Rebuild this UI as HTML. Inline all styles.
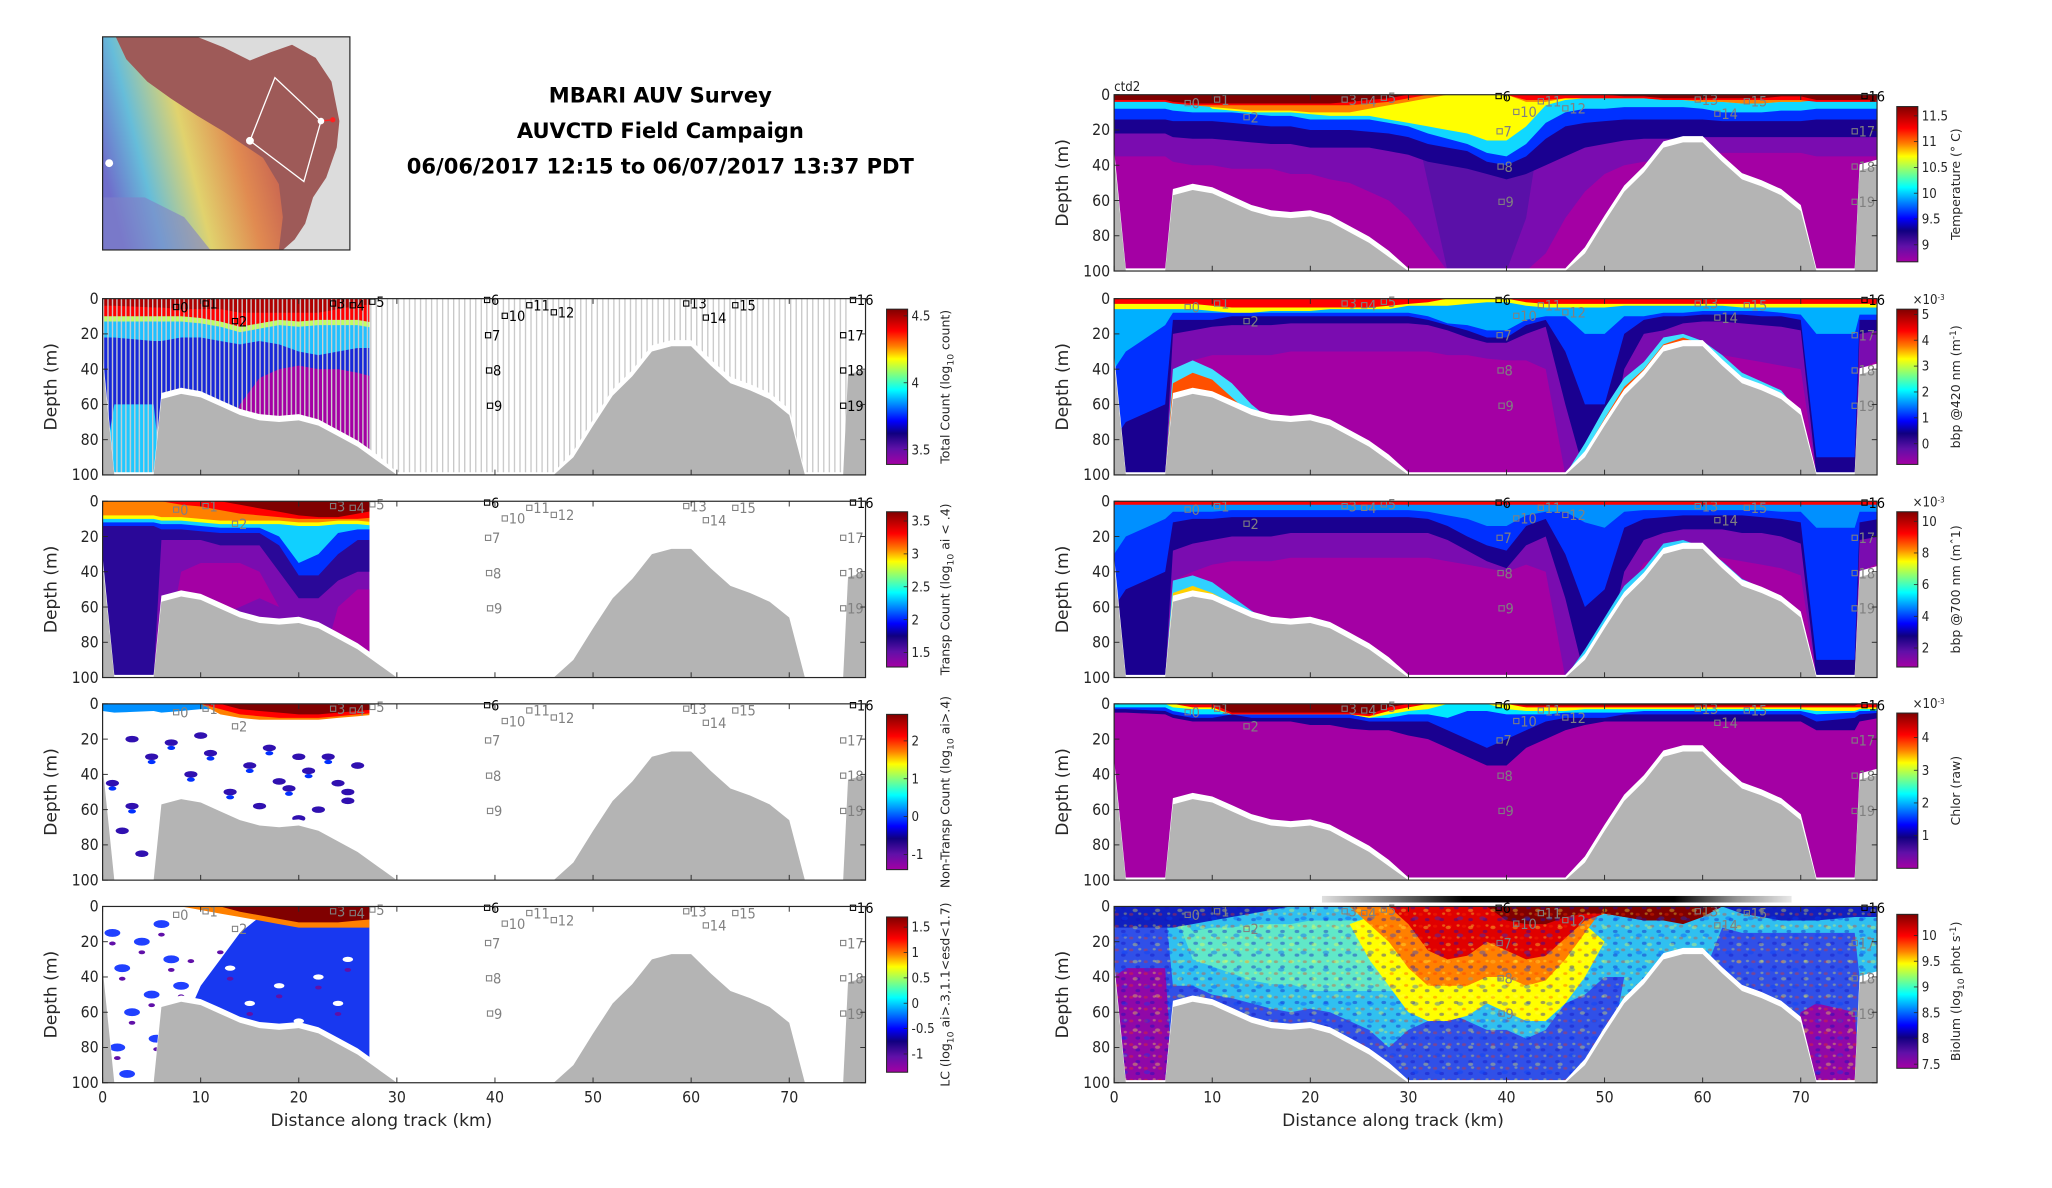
<!DOCTYPE html>
<html><head><meta charset="utf-8"><title>MBARI AUV Survey</title>
<style>
html,body{margin:0;padding:0;background:#fff;overflow:hidden}
svg{display:block}
.tk{font-family:"Liberation Sans Narrow","DejaVu Sans Condensed","Liberation Sans",sans-serif;font-size:12px;fill:#262626}
.lab{font-family:"DejaVu Sans","Liberation Sans",sans-serif;font-size:13px;fill:#262626}
.cbl{font-family:"DejaVu Sans","Liberation Sans",sans-serif;font-size:9.5px;fill:#262626}
.cbt{font-family:"Liberation Sans Narrow","DejaVu Sans Condensed","Liberation Sans",sans-serif;font-size:10px;fill:#262626}
.ttl{font-family:"DejaVu Sans","Liberation Sans",sans-serif;font-size:16px;font-weight:bold;fill:#000}
.st{font-family:"Liberation Sans Narrow","DejaVu Sans Condensed","Liberation Sans",sans-serif;font-size:11px}
</style></head>
<body>
<svg id="fig" width="2052" height="1188" viewBox="0 0 1560 903" preserveAspectRatio="none" xmlns="http://www.w3.org/2000/svg">
<defs>
<linearGradient id="jet" x1="0" y1="1" x2="0" y2="0">
<stop offset="0" stop-color="#a400a4"/><stop offset="0.1" stop-color="#6010a8"/><stop offset="0.2" stop-color="#100080"/>
<stop offset="0.28" stop-color="#0000ff"/><stop offset="0.38" stop-color="#0080ff"/><stop offset="0.48" stop-color="#00ffff"/>
<stop offset="0.58" stop-color="#80ff80"/><stop offset="0.68" stop-color="#ffff00"/><stop offset="0.76" stop-color="#ff8000"/>
<stop offset="0.86" stop-color="#ff0000"/><stop offset="1" stop-color="#800000"/>
</linearGradient>
<linearGradient id="rainbow" x1="0" y1="0.6" x2="1" y2="0.3">
<stop offset="0" stop-color="#6a70d8"/><stop offset="0.2" stop-color="#60c8e8"/><stop offset="0.45" stop-color="#e8e070"/>
<stop offset="0.7" stop-color="#e89050"/><stop offset="1" stop-color="#c05050"/>
</linearGradient>
<linearGradient id="navbar" x1="0" y1="0" x2="1" y2="0">
<stop offset="0" stop-color="#e0e0e0"/><stop offset="0.2" stop-color="#505050"/><stop offset="0.3" stop-color="#000"/>
<stop offset="0.75" stop-color="#000"/><stop offset="0.88" stop-color="#909090"/><stop offset="1" stop-color="#e8e8e8"/>
</linearGradient>
<pattern id="grayStripes" width="4.2" height="10" patternUnits="userSpaceOnUse"><rect x="0" y="0" width="1" height="10" fill="#c8c8c8"/></pattern>
<pattern id="dataStripes" width="3.4" height="10" patternUnits="userSpaceOnUse"><rect x="0" y="0" width="1" height="10" fill="#d0d0d0"/></pattern>
<pattern id="speckle" width="11" height="9" patternUnits="userSpaceOnUse">
<ellipse cx="2" cy="2" rx="1.6" ry="1.1" fill="#ff3000" opacity="0.35"/><ellipse cx="7" cy="6" rx="1.8" ry="1.2" fill="#1010c0" opacity="0.4"/><ellipse cx="8.5" cy="1.5" rx="1.2" ry="0.9" fill="#ffff40" opacity="0.35"/>
</pattern>
<pattern id="speckle2" width="17" height="13" patternUnits="userSpaceOnUse">
<ellipse cx="5" cy="9" rx="2.4" ry="1.5" fill="#0040ff" opacity="0.35"/><ellipse cx="13" cy="3" rx="2" ry="1.3" fill="#ffff40" opacity="0.35"/>
</pattern>
</defs>
<g id="root"></g>
</svg>
<script>
// ---------- data ----------
const KM = [0,1.2,5.2,6,8,10,12,14,16,18,20,22,24,26,28,30,32,34,36,38,40,42,44,46,48,50,52,54,56,58,60,62,64,66,68,70,71.6,75.5,76,78];
const BATHY = [35,102,102,57,54,56,61,66,69,70,69,72,78,84,92,102,102,102,102,102,102,102,102,102,90,72,55,44,30,27,27,38,48,52,57,66,102,102,43,40];
const X_TICKS = [0,10,20,30,40,50,60,70];
const Y_TICKS = [0,20,40,60,80,100];
const ST_KM = [7.5,10.5,13.5,23.5,25.5,27.5,39.2,39.3,39.4,39.5,41,43.5,46,59.5,61.5,64.5,76.5,75.5,75.5,75.5];
const ST_D = [4,2,12,2,3,1,0,20,40,60,9,3,7,2,10,3,0,20,40,60];
const ST_LABEL = ["0","1","2","3","4","5","6","7","8","9","10","11","12","13","14","15","16","17","18","19"];

// Temperature
const T_VIOLET = [35,35,35,38,40,40,42,42,42,45,45,48,50,55,60,70,85,100,100,100,100,100,90,70,55,45,40,38,38,36,34,33,33,33,33,33,35,35,35,35];
const T_DVIOLET = [0,0,0,0,0,0,0,0,0,0,0,0,0,0,0,0,50,100,100,100,100,70,0,0,0,0,0,0,0,0,0,0,0,0,0,0,0,0,0,0];
const T_NAVY = [22,22,22,24,25,25,26,27,28,28,30,30,30,30,32,34,38,40,42,45,48,45,40,35,30,28,26,25,25,25,24,24,24,24,24,24,24,24,24,24];
const T_BLUE = [14,14,14,15,15,15,16,17,18,18,20,20,20,21,22,24,28,30,32,38,40,35,25,18,16,15,14,14,14,14,14,15,15,15,15,15,14,14,14,14];
const T_CYAN = [8,8,8,9,10,10,10,11,12,12,14,14,14,14,16,18,22,25,28,33,35,28,16,10,8,8,7,7,7,7,8,10,10,10,9,9,8,8,8,8];
const T_YELLOW = [0,0,0,0,0,8,9,10,10,10,11,12,12,12,14,16,18,20,22,26,26,18,6,3,2,2,2,2,3,3,4,4,5,5,4,4,0,0,0,0];
const T_ORANGE = [0,0,0,2,6,7,8,9,9,9,10,10,10,8,6,4,2,0,0,0,0,4,4,2,2,2,2,2,3,3,4,4,5,5,4,4,3,3,3,3];
const T_RED = [4,4,4,5,6,6,6,6,6,6,6,6,6,5,4,2,0,0,0,0,0,3,3,2,2,2,2,2,3,3,3,3,3,3,3,3,4,4,4,4];
const T_DARKRED = [3,3,3,4,5,5,5,5,5,5,5,5,4,3,2,0,0,0,0,0,0,0,0,0,0,0,1,1,2,2,2,2,2,2,1,1,3,3,3,3];
const T_RANGE = [8.67,11.68];
const T_TICKS = [9,9.5,10,10.5,11,11.5];

// bbp 420
const B4_VIOLET = [100,100,100,40,35,32,32,32,32,30,30,30,30,30,30,30,30,32,32,34,35,35,40,100,100,100,60,35,30,30,30,32,34,36,38,40,100,100,40,35];
const B4_NAVY = [100,100,100,20,18,16,15,15,15,14,14,14,14,14,14,14,15,18,22,25,25,20,16,60,100,100,40,20,18,14,13,13,14,15,16,18,100,100,20,18];
const B4_BLUE = [80,70,60,12,12,12,10,10,10,10,10,10,10,10,10,10,12,15,18,22,22,15,12,30,60,60,20,12,10,10,9,9,9,10,10,12,90,90,12,12];
const B4_CYAN = [40,30,15,8,8,8,8,8,8,8,8,8,8,8,8,8,10,14,15,18,18,12,10,10,20,20,10,10,8,8,7,7,7,7,8,9,20,20,9,9];
const B4_YELLOW = [6,6,6,6,6,7,8,8,7,7,7,6,6,6,6,4,4,4,3,2,2,4,5,5,5,5,4,4,4,4,4,4,5,5,5,5,5,5,5,5];
const B4_RED = [3,3,3,3,3,4,5,5,5,5,5,5,5,5,4,3,2,0,0,0,0,2,3,3,3,3,3,3,3,3,3,3,3,3,3,3,3,3,3,3];
const B4_EDGE_TOP = [102,102,102,40,35,40,48,60,69,70,69,72,78,84,92,102,102,102,102,102,102,102,102,102,82,62,45,36,22,20,24,32,42,47,52,66,102,102,43,40];
const B4_HOT_TOP = [102,102,102,48,42,46,56,66,69,70,69,72,78,84,92,102,102,102,102,102,102,102,102,102,87,68,50,40,26,22,26,35,45,50,55,66,102,102,43,40];
const B4_RANGE = [-0.8,5.2];
const B4_TICKS = [0,1,2,3,4,5];

// bbp 700
const B7_VIOLET = [100,100,100,45,40,36,34,34,34,32,32,32,32,32,32,32,32,34,36,38,40,36,40,100,100,100,55,35,30,30,30,32,34,36,38,42,100,100,40,35];
const B7_NAVY = [100,100,100,28,24,22,20,20,20,18,18,18,18,18,18,18,18,22,28,34,38,25,20,55,100,90,40,22,18,16,16,16,18,18,20,24,100,100,22,20];
const B7_BLUE = [60,50,40,12,10,10,9,9,9,9,9,9,9,9,9,9,10,14,20,25,28,14,10,30,60,50,15,10,9,8,8,8,8,9,10,12,90,90,12,10];
const B7_CYAN = [30,20,10,6,6,6,5,5,5,5,5,5,5,5,5,5,6,8,10,14,14,8,6,6,12,15,6,5,5,5,5,5,5,5,6,6,15,15,6,6];
const B7_RED = [2,2,2,2,2,2,2,2,2,2,2,2,2,2,2,2,2,2,2,2,2,2,2,2,2,2,2,2,2,2,2,2,2,2,2,2,2,2,2,2];
const B7_EDGE_TOP = [102,102,102,45,42,46,54,62,69,70,69,72,78,84,92,102,102,102,102,102,102,102,102,102,84,66,48,38,24,22,26,34,44,49,54,66,102,102,43,40];
const B7_HOT_TOP = [102,102,102,52,48,52,58,66,69,70,69,72,78,84,92,102,102,102,102,102,102,102,102,102,88,70,52,42,28,27,27,38,48,52,57,66,102,102,43,40];
const B7_RANGE = [0.8,10.6];
const B7_TICKS = [2,4,6,8,10];

// Chlorophyll
const C_NAVY = [5,5,6,8,10,10,10,10,10,10,12,12,14,15,15,18,20,25,30,35,35,25,20,15,12,10,10,10,10,10,10,10,10,10,10,10,15,15,10,8];
const C_BLUE = [3,3,4,6,8,8,6,8,8,8,8,8,8,10,10,10,10,15,20,25,20,15,10,8,8,8,6,6,6,6,6,6,6,6,6,6,10,8,6,5];
const C_CYAN = [2,2,2,4,6,6,6,6,6,6,6,6,6,8,8,6,6,8,4,4,6,6,6,5,5,5,5,4,4,4,4,4,4,4,4,4,6,5,4,4];
const C_YELLOW = [0,0,0,2,3,3,6,6,6,6,6,6,6,8,6,4,3,0,0,0,3,4,4,4,3,3,3,3,3,3,3,3,3,3,3,3,4,4,3,3];
const C_RED = [0,0,0,0,2,2,6,6,6,6,6,6,6,7,4,2,0,0,0,0,0,2,2,2,2,2,2,2,2,2,2,2,2,2,2,2,2,2,2,2];
const C_DARKRED = [0,0,0,0,0,0,5,5,5,5,5,5,5,6,2,0,0,0,0,0,0,1,1,1,1,1,1,1,1,1,1,1,1,1,1,1,1,1,0,0];
const C_RANGE = [0,4.75];
const C_TICKS = [1,2,3,4];

// Bioluminescence
const Z_BLUE_TOP = [0,0,0,45,45,50,52,55,58,60,58,60,65,70,80,70,65,60,65,70,70,75,70,55,50,40,40,40,40,40,40,12,15,15,15,15,15,15,40,40];
const Z_BLUE_BOT = [100,100,100,100,100,100,100,100,100,100,100,100,100,100,100,100,100,100,100,100,100,100,100,100,100,100,40,40,40,40,40,100,100,100,100,100,100,100,40,40];
const Z_MAG_TOP = [40,35,35,100,100,100,100,100,100,100,100,100,100,100,100,100,100,100,100,100,100,100,100,100,100,100,100,100,100,100,100,100,100,100,100,60,55,60,100,100];
const Z_NAVY = [12,12,12,12,10,8,6,4,2,0,0,0,0,0,0,0,0,0,0,0,0,0,0,0,0,0,0,0,0,0,0,0,4,6,8,8,8,6,6,6];
const Z_GREEN_TOP = [0,0,0,0,14,12,12,10,10,10,8,8,8,8,10,12,0,0,0,0,0,0,0,0,0,0,0,0,0,0,0,0,0,0,0,0,0,0,0,0];
const Z_GREEN_BOT = [0,0,0,0,30,34,38,42,44,44,48,48,48,48,48,48,0,0,0,0,0,0,0,0,0,0,0,0,0,0,0,0,0,0,0,0,0,0,0,0];
const Z_YEL_TOP = [0,0,0,0,0,0,0,0,0,0,0,0,10,6,4,2,2,2,2,2,2,2,2,6,10,20,0,0,0,0,0,0,0,0,0,0,0,0,0,0];
const Z_YEL_BOT = [0,0,0,0,0,0,0,0,0,0,0,0,10,30,45,60,65,65,62,55,60,65,65,55,40,20,0,0,0,0,0,0,0,0,0,0,0,0,0,0];
const Z_ORA_BOT = [0,0,0,0,0,0,0,0,0,0,0,0,0,10,20,35,45,45,45,40,40,45,42,30,15,0,0,0,0,0,0,0,0,0,0,0,0,0,0,0];
const Z_RED_BOT = [0,0,0,0,0,0,0,0,0,0,0,0,0,0,0,10,25,30,28,20,25,30,28,18,8,4,6,6,6,4,4,0,0,0,0,0,0,0,0,0];
const Z_DRED_BOT = [0,0,0,0,0,0,0,0,0,0,0,0,0,0,0,0,0,0,0,0,8,10,10,6,4,4,6,8,8,10,6,0,0,0,0,0,0,0,0,0];
const Z_RANGE = [7.42,10.41];
const Z_TICKS = [7.5,8,8.5,9,9.5,10];

// Left: Total count
const L1_MAG_TOP = [100,100,100,100,100,100,100,60,45,40,38,40,40,42,45];
const L1_CYDEEP_TOP = [100,60,60,100,100,100,100,100,100,100,100,100,100,100,100];
const L1_CYAN = [22,22,24,24,22,22,24,26,24,26,30,32,30,28,28];
const L1_GREEN = [13,13,13,13,13,14,16,19,17,15,16,15,15,15,17];
const L1_RED = [10,10,10,10,10,11,13,16,14,12,13,12,12,12,14];
const L1_DARKRED = [4,4,5,5,6,6,6,8,8,8,8,8,6,4,3];
const L1_RANGE = [3.39,4.55];
const L1_TICKS = [3.5,4,4.5];

// Left: Transparent count
const L2_MAG_TOP = [100,100,100,100,40,35,35,35,40,60,100,100,60,50,50];
const L2_MAG_BOT = [100,100,100,100,55,60,65,60,55,60,100,100,85,85,85];
const L2_NAVY = [100,100,100,22,22,22,25,25,25,40,55,55,45,40,40];
const L2_BLUE = [14,14,14,16,16,17,18,18,18,25,42,42,30,22,22];
const L2_CYAN = [12,12,12,13,13,14,15,15,15,20,35,30,18,16,16];
const L2_YELLOW = [10,10,10,11,11,12,13,13,13,13,14,14,13,13,14];
const L2_ORANGE = [8,8,8,9,9,10,11,11,11,11,12,12,11,11,12];
const L2_RED = [0,0,0,0,2,3,5,7,8,9,10,10,10,10,9];
const L2_DARKRED = [0,0,0,0,0,0,0,2,4,6,8,9,9,7,5];
const L2_RANGE = [1.28,3.64];
const L2_TICKS = [1.5,2,2.5,3,3.5];

// Left: Non-transparent count
const L3_TOP_CYAN = [4,5,4,5,4,3,3,2,0,0,0,0,0,0,0];
const L3_TOP_ORANGE = [0,0,0,0,0,0,6,8,9,9,9,9,8,7,6];
const L3_TOP_RED = [0,0,0,0,0,0,3,6,7,8,8,8,7,6,5];
const L3_TOP_DARKRED = [0,0,0,0,0,0,0,3,4,5,6,6,5,4,3];
const L3_BLOB_KM = [1,3,5,7,9,11,13,15,17,19,21,23,25,2,4,8,12,16,20,24,10,14,18,22,26,6,3,9,20,25];
const L3_BLOB_D = [45,58,30,22,40,28,50,35,25,48,38,30,55,72,85,62,70,58,65,45,18,80,44,60,35,95,20,92,30,50];
const L3_RANGE = [-1.4,2.7];
const L3_TICKS = [-1,0,1,2];

// Left: LC
const L4_WHITE_BOT = [100,100,100,100,70,45,30,15,6,0,0,0,0,0,0];
const L4_ORANGE = [0,0,0,0,0,2,4,6,8,10,12,12,12,12,12];
const L4_DARKRED = [0,0,0,0,0,0,0,3,5,7,9,9,9,8,7];
const L4_BLOB_KM = [1,2,4,5,6,7,3,8,1.5,5.5,6.5,2.5,9,11,13,15,18,22,25,12,16,20,24];
const L4_BLOB_D = [15,35,20,50,10,30,60,45,80,75,90,95,25,60,35,55,45,40,30,20,70,65,55];
const L4_RANGE = [-1.36,1.7];
const L4_TICKS = [-1,-0.5,0,0.5,1,1.5];

// ---------- drawing ----------
const NS = "http://www.w3.org/2000/svg";
const root = document.getElementById('root');
const PXKM = (600-78)/70;
const COL = {mag:"#a400a4",purple:"#7a0cb0",violet:"#5a10a8",navy:"#1a0090",blue:"#0030ff",azure:"#0090ff",cyan:"#00e8ff",green:"#80ff80",yellow:"#ffff00",orange:"#ff8000",red:"#ff0000",darkred:"#800000",gray:"#b4b4b4"};

function mk(tag, attrs, parent){
  const e = document.createElementNS(NS, tag);
  for (const k in attrs) e.setAttribute(k, attrs[k]);
  (parent||root).appendChild(e);
  return e;
}
function P(x0,y0,kmMax){ return {x0:x0,y0:y0,w:580,h:134,kmMax:kmMax}; }
function xOf(p,km){ return p.x0 + km*PXKM; }
function yOf(p,d){ return p.y0 + Math.max(0,Math.min(d,100))*p.h/100; }

let clipN = 0;
function panelGroup(p, name){
  const id = 'clip'+(clipN++);
  const cp = mk('clipPath',{id:id});
  mk('rect',{x:p.x0,y:p.y0,width:Math.min(p.w,p.kmMax*PXKM),height:p.h},cp);
  const g = mk('g',{'clip-path':'url(#'+id+')'});
  
  
  return g;
}
function band(p, g, color, topArr, botArr, name){
  const n = Math.min(botArr.length, KM.length);
  const pts = [];
  for (let i=0;i<n;i++){ const t = (typeof topArr==='number')?topArr:topArr[i]; pts.push(xOf(p,KM[i]).toFixed(1)+','+yOf(p,t).toFixed(1)); }
  for (let i=n-1;i>=0;i--){ pts.push(xOf(p,KM[i]).toFixed(1)+','+yOf(p,botArr[i]).toFixed(1)); }
  const e = mk('polygon',{points:pts.join(' '),fill:color},g);
  
  
  return e;
}
function fillRect(p,g,color,name){
  const e = mk('rect',{x:p.x0,y:p.y0,width:p.w,height:p.h,fill:color},g);
  
  
}
function blobs(p,g,kms,ds,color,rx,ry,name){
  for (let i=0;i<kms.length;i++){
    const e = mk('ellipse',{cx:xOf(p,kms[i]),cy:yOf(p,ds[i]),rx:rx,ry:ry,fill:color},g);
    
    
  }
}
function bathy(p){
  const wt = BATHY.map(v=>v-3.5);
  const g = mk('g',{});
  
  
  const cid='clip'+(clipN++);
  const cp = mk('clipPath',{id:cid}); mk('rect',{x:p.x0,y:p.y0,width:p.w,height:p.h},cp);
  g.setAttribute('clip-path','url(#'+cid+')');
  band(p,g,'#ffffff',wt,KM.map(()=>101),'seafloor-outline');
  band(p,g,COL.gray,BATHY,KM.map(()=>101),'seafloor-fill');
}
function axes(p, showXLabels, name){
  const g = mk('g',{});
  
  
  const r = mk('rect',{x:p.x0,y:p.y0,width:p.w,height:p.h,fill:'none',stroke:'#262626','stroke-width':0.9},g);
  
  
  Y_TICKS.forEach(v=>{
    const y = yOf(p,v);
    mk('line',{x1:p.x0,x2:p.x0+4,y1:y,y2:y,stroke:'#262626','stroke-width':0.7},g);
    mk('line',{x1:p.x0+p.w,x2:p.x0+p.w-4,y1:y,y2:y,stroke:'#262626','stroke-width':0.7},g);
    const t = mk('text',{x:p.x0-3,y:y+4,'text-anchor':'end',class:'tk'},g);
    t.textContent = v;
    
    
  });
  X_TICKS.forEach(v=>{
    const x = xOf(p,v);
    mk('line',{x1:x,x2:x,y1:p.y0+p.h,y2:p.y0+p.h-4,stroke:'#262626','stroke-width':0.7},g);
    mk('line',{x1:x,x2:x,y1:p.y0,y2:p.y0+4,stroke:'#262626','stroke-width':0.7},g);
    if (showXLabels){
      const t = mk('text',{x:x,y:p.y0+p.h+15,'text-anchor':'middle',class:'tk'},g);
      t.textContent = v;
      
      
    }
  });
  const yl = mk('text',{x:0,y:0,'text-anchor':'middle',class:'lab',transform:'translate('+(p.x0-35)+','+(p.y0+p.h/2)+') rotate(-90)'},g);
  yl.textContent = 'Depth (m)';
  
  
  if (showXLabels){
    const xl = mk('text',{x:p.x0+p.w/2-78,y:p.y0+p.h+33,'text-anchor':'middle',class:'lab'},g);
    xl.textContent = 'Distance along track (km)';
    
    
  }
}
function stations(p, allBlack){
  const g = mk('g',{});
  
  
  for (let i=0;i<ST_KM.length;i++){
    const black = allBlack || ST_LABEL[i]==='6' || ST_LABEL[i]==='16';
    const c = black ? '#000' : '#808080';
    const x = xOf(p,ST_KM[i]), y = yOf(p,ST_D[i]);
    const s = mk('rect',{x:x-2,y:y-2+1,width:4,height:4,fill:'none',stroke:c,'stroke-width':0.8},g);
    
    
    const t = mk('text',{x:x+3,y:y+5,class:'st',fill:c},g);
    t.textContent = ST_LABEL[i];
    
    
  }
}
function colorbar(x,y0,y1,range,ticks,labelParts,name,exp){
  const g = mk('g',{});
  
  
  const r = mk('rect',{x:x,y:y0,width:16,height:y1-y0,fill:'url(#jet)',stroke:'#262626','stroke-width':0.8},g);
  
  
  ticks.forEach(v=>{
    const y = y1 - (v-range[0])/(range[1]-range[0])*(y1-y0);
    mk('line',{x1:x+16,x2:x+13,y1:y,y2:y,stroke:'#262626','stroke-width':0.6},g);
    const t = mk('text',{x:x+19,y:y+3.5,class:'cbt'},g);
    t.textContent = v;
    
    
  });
  if (exp){
    const t = mk('text',{x:x+12,y:y0-4,class:'cbt','font-size':'8'},g);
    t.innerHTML = '\u00d710<tspan dy="-3" font-size="6">-3</tspan>';
    
    
  }
  const lt = mk('text',{x:0,y:0,'text-anchor':'middle',class:'cbl',transform:'translate('+(x+48)+','+((y0+y1)/2)+') rotate(-90)'},g);
  lt.innerHTML = labelParts;
  
  
}
const sub = s => '<tspan dy="3" font-size="7">'+s+'</tspan><tspan dy="-3">';
const full = KM.map(()=>100);
const fullL = full.slice(0,15);

// ---------- Map & title ----------
(function(){
  const g = mk('g',{});
  
  
  mk('rect',{x:78,y:28,width:188,height:162,fill:'#dcdcdc'},g);
  mk('polygon',{points:'78,28 150,28 170,36 190,46 205,40 222,34 240,44 252,62 258,92 256,112 248,135 238,150 232,170 224,182 215,190 78,190',fill:'#9e5a58'},g);
  mk('polygon',{points:'78,28 88,28 96,45 112,62 130,75 150,88 170,100 185,110 200,120 212,140 215,165 212,190 78,190',fill:'url(#rainbow)',opacity:'0.9'},g);
  mk('polygon',{points:'78,150 110,150 140,165 160,190 78,190',fill:'#8080c8',opacity:'0.6'},g);
  mk('polygon',{points:'209,59 244,92 231,138 190,107',fill:'none',stroke:'#fff','stroke-width':1},g);
  mk('line',{x1:244,y1:92,x2:253,y2:91,stroke:'#ff2020','stroke-width':1},g);
  mk('circle',{cx:253,cy:91,r:2,fill:'#ff2020'},g);
  mk('circle',{cx:244,cy:92,r:2.5,fill:'#fff'},g);
  mk('circle',{cx:190,cy:107,r:3,fill:'#fff'},g);
  mk('circle',{cx:83,cy:124,r:3,fill:'#fff'},g);
  mk('rect',{x:78,y:28,width:188,height:162,fill:'none',stroke:'#262626','stroke-width':0.9},g);
  const titles = ['MBARI AUV Survey','AUVCTD Field Campaign','06/06/2017 12:15 to 06/07/2017 13:37 PDT'];
  titles.forEach((s,i)=>{
    const t = mk('text',{x:502,y:78+i*27,'text-anchor':'middle',class:'ttl'});
    t.textContent = s;
    
    
  });
})();

// ---------- Left panels ----------
const LY = [227,381,535,689];
(function(){
  // L1 total count
  let p = P(78,LY[0],78);
  let g = panelGroup(p,'total-count-section');
  const stripes = mk('rect',{x:xOf(p,27),y:p.y0,width:xOf(p,76)-xOf(p,27),height:p.h,fill:'url(#grayStripes)'},g);
  
  
  const edge = mk('rect',{x:p.x0,y:p.y0,width:4,height:p.h*0.4,fill:'#d0d0d0'},g);
  
  
  p.kmMax = 27.2;
  g = panelGroup(p,'total-count-field');
  fillRect(p,g,'#1828d8','tc-base');
  band(p,g,COL.mag,L1_MAG_TOP,fullL,'tc-magenta');
  band(p,g,'#20c8ff',L1_CYDEEP_TOP,fullL,'tc-cyan-deep');
  band(p,g,'#20c0ff',0,L1_CYAN,'tc-cyan');
  band(p,g,'#c0ff60',0,L1_GREEN,'tc-green');
  band(p,g,COL.red,0,L1_RED,'tc-red');
  band(p,g,'#b00000',0,L1_DARKRED,'tc-darkred');
  const ws = mk('rect',{x:p.x0,y:p.y0,width:27.2*PXKM,height:p.h,fill:'url(#dataStripes)'},g);
  
  
  p.kmMax = 78; bathy(p); stations(p,true); axes(p,false,'total-count-axes');
  colorbar(674,235,353,L1_RANGE,L1_TICKS,'Total Count (log'+sub('10')+' count)</tspan>','total-count-colorbar');

  // L2 transparent
  p = P(78,LY[1],27.2);
  g = panelGroup(p,'transp-count-field');
  fillRect(p,g,COL.purple,'tr-base');
  band(p,g,COL.mag,L2_MAG_TOP,L2_MAG_BOT,'tr-magenta');
  band(p,g,'#2a0898',0,L2_NAVY,'tr-navy');
  band(p,g,COL.blue,0,L2_BLUE,'tr-blue');
  band(p,g,'#10d0ff',0,L2_CYAN,'tr-cyan');
  band(p,g,COL.yellow,0,L2_YELLOW,'tr-yellow');
  band(p,g,COL.orange,0,L2_ORANGE,'tr-orange');
  band(p,g,COL.red,0,L2_RED,'tr-red');
  band(p,g,COL.darkred,0,L2_DARKRED,'tr-darkred');
  p.kmMax = 78; bathy(p); stations(p,false); axes(p,false,'transp-count-axes');
  colorbar(674,389,507,L2_RANGE,L2_TICKS,'Transp Count (log'+sub('10')+' ai &lt; .4)</tspan>','transp-count-colorbar');

  // L3 non-transparent
  p = P(78,LY[2],27.2);
  g = panelGroup(p,'nontransp-count-field');
  band(p,g,COL.azure,0,L3_TOP_CYAN,'nt-cyan');
  band(p,g,COL.orange,0,L3_TOP_ORANGE,'nt-orange');
  band(p,g,COL.red,0,L3_TOP_RED,'nt-red');
  band(p,g,COL.darkred,0,L3_TOP_DARKRED,'nt-darkred');
  blobs(p,g,L3_BLOB_KM,L3_BLOB_D,'#3010b0',5,2.5,'nt-blob');
  blobs(p,g,L3_BLOB_KM.slice(0,12),L3_BLOB_D.slice(0,12).map(v=>v+3),COL.blue,3,1.6,'nt-blob-core');
  p.kmMax = 78; bathy(p); stations(p,false); axes(p,false,'nontransp-count-axes');
  colorbar(674,543,661,L3_RANGE,L3_TICKS,'Non-Transp Count (log'+sub('10')+' ai&gt;.4)</tspan>','nontransp-count-colorbar');

  // L4 LC
  p = P(78,LY[3],27.2);
  g = panelGroup(p,'lc-field');
  fillRect(p,g,'#1838f0','lc-base');
  band(p,g,'#ffffff',0,L4_WHITE_BOT,'lc-white');
  blobs(p,g,L4_BLOB_KM.slice(0,12),L4_BLOB_D.slice(0,12),'#2040ff',6,3,'lc-blob-blue');
  blobs(p,g,L4_BLOB_KM.slice(12),L4_BLOB_D.slice(12),'#ffffff',4,2,'lc-blob-white');
  blobs(p,g,L4_BLOB_KM,L4_BLOB_D.map(v=>v+6),'#6010a8',2.5,1.5,'lc-blob-purple');
  band(p,g,COL.orange,0,L4_ORANGE,'lc-orange');
  band(p,g,COL.darkred,0,L4_DARKRED,'lc-darkred');
  p.kmMax = 78; bathy(p); stations(p,false); axes(p,true,'lc-axes');
  colorbar(674,697,815,L4_RANGE,L4_TICKS,'LC (log'+sub('10')+' ai&gt;.3,1.1&lt;esd&lt;1.7)</tspan>','lc-colorbar');
})();

// ---------- Right panels ----------
const RY = [72,227,381,535,689];
(function(){
  // Temperature
  let p = P(847,RY[0],78);
  let g = panelGroup(p,'temperature-field');
  fillRect(p,g,COL.mag,'temp-base');
  band(p,g,COL.purple,0,T_VIOLET,'temp-purple');
  band(p,g,COL.violet,0,T_DVIOLET,'temp-violet');
  band(p,g,COL.navy,0,T_NAVY,'temp-navy');
  band(p,g,COL.blue,0,T_BLUE,'temp-blue');
  band(p,g,'#10d8ff',0,T_CYAN,'temp-cyan');
  band(p,g,COL.yellow,0,T_YELLOW,'temp-yellow');
  band(p,g,COL.orange,0,T_ORANGE,'temp-orange');
  band(p,g,COL.red,0,T_RED,'temp-red');
  band(p,g,COL.darkred,0,T_DARKRED,'temp-darkred');
  bathy(p); stations(p,false); axes(p,false,'temperature-axes');
  const ct = mk('text',{x:847,y:69,class:'cbt','font-size':'9'}); ct.textContent='ctd2';
  
  
  colorbar(1442,81,199,T_RANGE,T_TICKS,'Temperature (\u00b0 C)','temperature-colorbar');

  // bbp420
  p = P(847,RY[1],78);
  g = panelGroup(p,'bbp420-field');
  fillRect(p,g,COL.mag,'b4-base');
  band(p,g,COL.purple,0,B4_VIOLET,'b4-purple');
  band(p,g,COL.navy,0,B4_NAVY,'b4-navy');
  band(p,g,COL.blue,0,B4_BLUE,'b4-blue');
  band(p,g,'#00b0ff',0,B4_CYAN,'b4-cyan');
  band(p,g,'#40e0ff',B4_EDGE_TOP,BATHY,'b4-bottom-cyan');
  band(p,g,'#ff5000',B4_HOT_TOP,BATHY,'b4-bottom-hot');
  band(p,g,COL.yellow,0,B4_YELLOW,'b4-yellow');
  band(p,g,COL.red,0,B4_RED,'b4-red');
  bathy(p); stations(p,false); axes(p,false,'bbp420-axes');
  colorbar(1442,235,353,B4_RANGE,B4_TICKS,'bbp @420 nm (m<tspan dy="-3" font-size="7">-1</tspan><tspan dy="3">)</tspan>','bbp420-colorbar',true);

  // bbp700
  p = P(847,RY[2],78);
  g = panelGroup(p,'bbp700-field');
  fillRect(p,g,COL.mag,'b7-base');
  band(p,g,COL.purple,0,B7_VIOLET,'b7-purple');
  band(p,g,COL.navy,0,B7_NAVY,'b7-navy');
  band(p,g,COL.blue,0,B7_BLUE,'b7-blue');
  band(p,g,COL.azure,0,B7_CYAN,'b7-cyan');
  band(p,g,'#30d0ff',B7_EDGE_TOP,BATHY,'b7-bottom-cyan');
  band(p,g,'#ffd000',B7_HOT_TOP,BATHY,'b7-bottom-hot');
  band(p,g,COL.red,0,B7_RED,'b7-red');
  bathy(p); stations(p,false); axes(p,false,'bbp700-axes');
  colorbar(1442,389,507,B7_RANGE,B7_TICKS,'bbp @700 nm (m\u02c61)','bbp700-colorbar',true);

  // Chlorophyll
  p = P(847,RY[3],78);
  g = panelGroup(p,'chlor-field');
  fillRect(p,g,COL.mag,'chl-base');
  band(p,g,COL.navy,0,C_NAVY,'chl-navy');
  band(p,g,COL.blue,0,C_BLUE,'chl-blue');
  band(p,g,COL.cyan,0,C_CYAN,'chl-cyan');
  band(p,g,COL.yellow,0,C_YELLOW,'chl-yellow');
  band(p,g,COL.red,0,C_RED,'chl-red');
  band(p,g,COL.darkred,0,C_DARKRED,'chl-darkred');
  bathy(p); stations(p,false); axes(p,false,'chlor-axes');
  colorbar(1442,542,660,C_RANGE,C_TICKS,'Chlor (raw)','chlor-colorbar',true);

  // Biolum
  p = P(847,RY[4],78);
  const nb = mk('rect',{x:1005,y:681,width:357,height:5,fill:'url(#navbar)'});
  
  
  g = panelGroup(p,'biolum-field');
  fillRect(p,g,'#30c0f0','bio-base');
  band(p,g,'#3050e8',Z_BLUE_TOP,Z_BLUE_BOT,'bio-deep-blue');
  band(p,g,'#9008a8',Z_MAG_TOP,full,'bio-magenta');
  band(p,g,'#60e8c8',Z_GREEN_TOP,Z_GREEN_BOT,'bio-green');
  band(p,g,'#1020c0',0,Z_NAVY,'bio-navy');
  band(p,g,COL.yellow,Z_YEL_TOP,Z_YEL_BOT,'bio-yellow');
  band(p,g,COL.orange,0,Z_ORA_BOT,'bio-orange');
  band(p,g,'#e00000',0,Z_RED_BOT,'bio-red');
  band(p,g,COL.darkred,0,Z_DRED_BOT,'bio-darkred');
  const sp = mk('rect',{x:p.x0,y:p.y0,width:p.w,height:p.h,fill:'url(#speckle)'},g);
  
  
  const sp2 = mk('rect',{x:p.x0,y:p.y0,width:p.w,height:p.h,fill:'url(#speckle2)'},g);
  
  
  bathy(p); stations(p,false); axes(p,true,'biolum-axes');
  colorbar(1442,695,812,Z_RANGE,Z_TICKS,'Biolum (log'+sub('10')+' phot s<tspan dy="-3" font-size="7">-1</tspan><tspan dy="3">)</tspan></tspan>','biolum-colorbar');
})();
</script>
</body></html>
